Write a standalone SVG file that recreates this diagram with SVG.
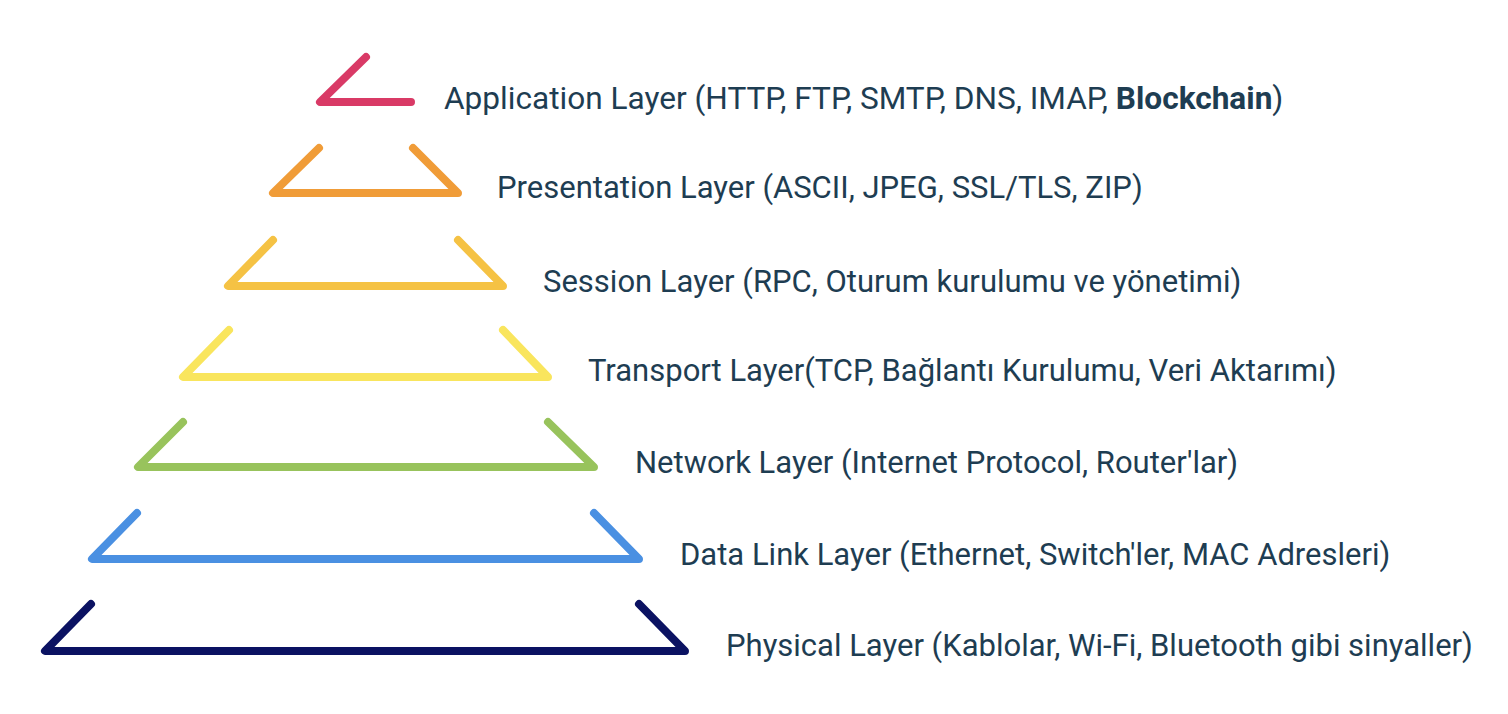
<svg xmlns="http://www.w3.org/2000/svg" width="1508" height="714" viewBox="0 0 1508 714">
<style>
.s{fill:none;stroke-width:8;stroke-linecap:round;stroke-linejoin:round}
.t{font-family:Roboto,"Liberation Sans",sans-serif;font-size:31px;fill:#1e3d52}
.b{font-weight:bold}
</style>
<rect width="1508" height="714" fill="#fff"/>
<g id="application"><polyline class="s" stroke="#d93a66" points="366,57 320,102 411,102"/><text class="t" x="444" y="109" style="font-size:31.6px">Application Layer (HTTP, FTP, SMTP, DNS, IMAP, <tspan class="b">Blockchain</tspan>)</text></g>
<g id="presentation"><polyline class="s" stroke="#f09c38" points="319,148 273,193 458,193 413,148"/><text class="t" x="497" y="198">Presentation Layer (ASCII, JPEG, SSL/TLS, ZIP)</text></g>
<g id="session"><polyline class="s" stroke="#f5c244" points="273,240 228,286 503,286 458,240"/><text class="t" x="543" y="292">Session Layer (RPC, Oturum kurulumu ve yönetimi)</text></g>
<g id="transport"><polyline class="s" stroke="#f9e55d" points="229,330 183,377 548,377 503,330"/><text class="t" x="588" y="381">Transport Layer(TCP, Bağlantı Kurulumu, Veri Aktarımı)</text></g>
<g id="network"><polyline class="s" stroke="#98c35c" points="183,422 138,467 594,467 548,422"/><text class="t" x="635" y="473">Network Layer (Internet Protocol, Router'lar)</text></g>
<g id="datalink"><polyline class="s" stroke="#4a90e2" points="137,513 92,559 639,559 594,513"/><text class="t" x="680" y="565">Data Link Layer (Ethernet, Switch'ler, MAC Adresleri)</text></g>
<g id="physical"><polyline class="s" stroke="#0b1262" points="91,604 45,651 685,651 639,604"/><text class="t" x="726" y="656">Physical Layer (Kablolar, Wi-Fi, Bluetooth gibi sinyaller)</text></g>
<g id="connectors"></g>
</svg>
